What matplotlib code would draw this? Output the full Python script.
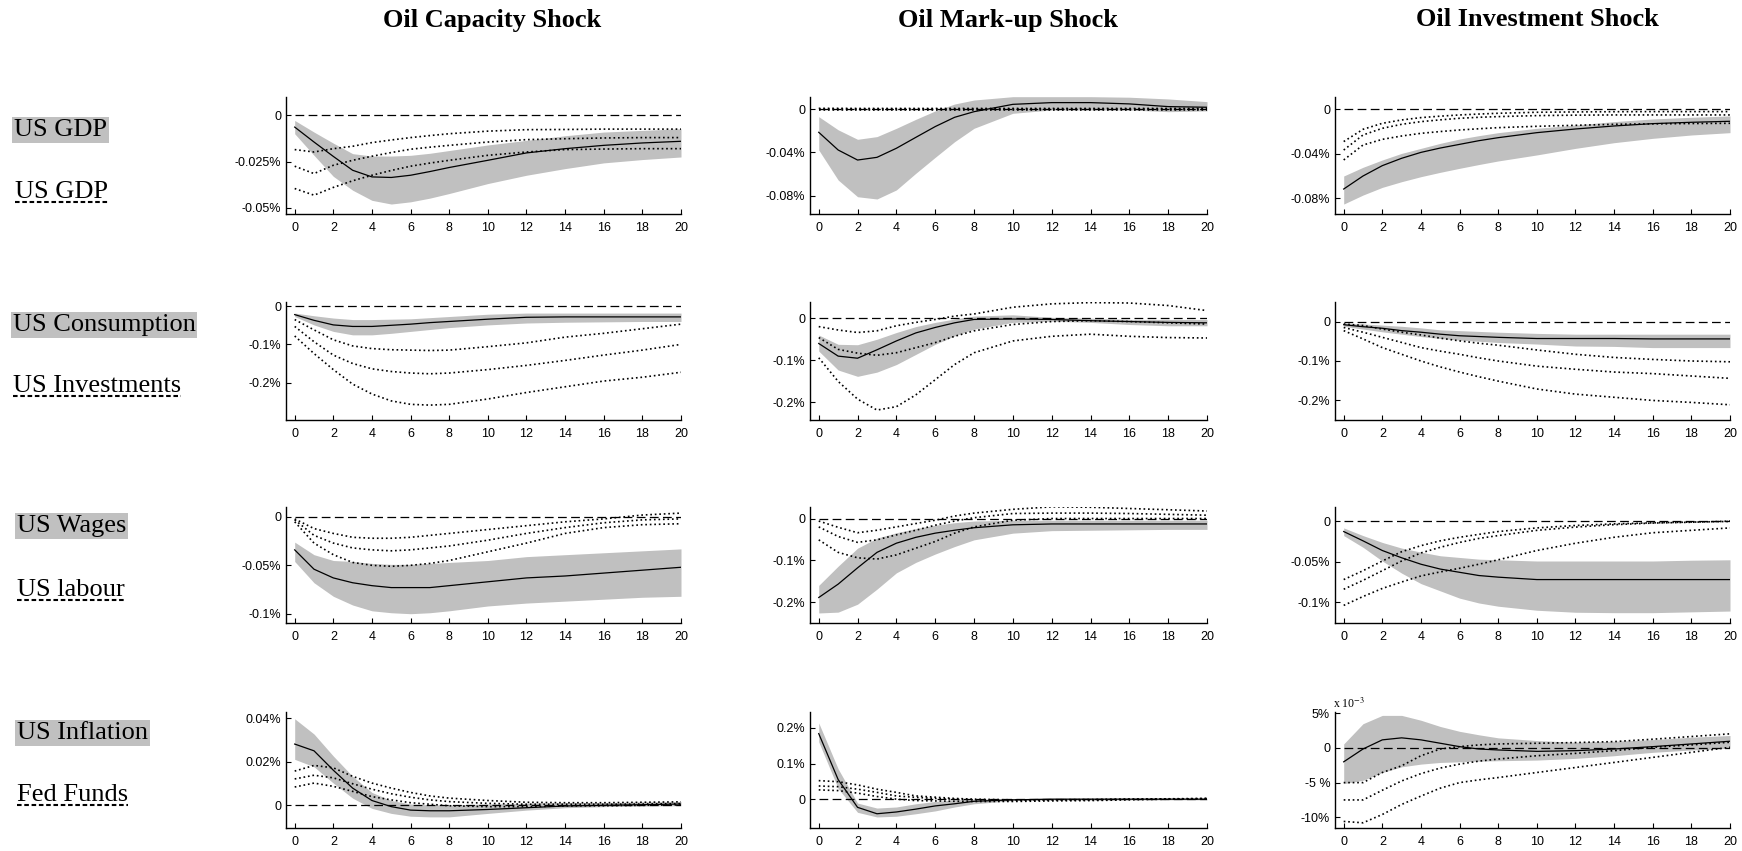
import matplotlib
matplotlib.use("Agg")
import matplotlib.pyplot as plt
from matplotlib.lines import Line2D

plt.rcParams['font.family'] = ['Liberation Sans', 'DejaVu Sans']
plt.rcParams['mathtext.fontset'] = 'stix'

# ---------------- data ----------------
horizons = [0, 1, 2, 3, 4, 5, 6, 7, 8, 10, 12, 14, 16, 18, 20]

shock_titles = ["Oil Capacity Shock", "Oil Mark-up Shock", "Oil Investment Shock"]
band_vars = ["US GDP", "US Consumption", "US Wages", "US Inflation"]
dotted_vars = ["US GDP", "US Investments", "US labour", "Fed Funds"]

# Row 1: US GDP (band) / US GDP (dotted)
cap_gdp_med = [-0.0063, -0.0144, -0.0222, -0.0297, -0.0333, -0.0336, -0.0324, -0.0304, -0.0282, -0.0243, -0.0203, -0.018, -0.0162, -0.0149, -0.014]
cap_gdp_hi = [-0.0027, -0.009, -0.015, -0.0207, -0.022, -0.022, -0.0216, -0.0205, -0.019, -0.016, -0.0135, -0.011, -0.009, -0.0081, -0.0072]
cap_gdp_lo = [-0.0099, -0.0216, -0.033, -0.0405, -0.046, -0.048, -0.0468, -0.0448, -0.0423, -0.0369, -0.0324, -0.0288, -0.0257, -0.0239, -0.0225]
cap_gdp_d1 = [-0.0185, -0.0198, -0.018, -0.0167, -0.0147, -0.0133, -0.012, -0.0109, -0.0099, -0.0085, -0.0077, -0.0076, -0.0074, -0.0074, -0.0074]
cap_gdp_d2 = [-0.0275, -0.0315, -0.027, -0.0243, -0.0221, -0.0201, -0.0183, -0.0172, -0.0162, -0.0144, -0.0131, -0.0126, -0.0122, -0.012, -0.012]
cap_gdp_d3 = [-0.0396, -0.0432, -0.039, -0.0354, -0.0324, -0.0298, -0.0275, -0.0258, -0.0243, -0.0216, -0.0198, -0.0185, -0.0182, -0.018, -0.018]

mk_gdp_med = [-0.0213, -0.0377, -0.047, -0.0445, -0.0361, -0.026, -0.016, -0.0074, -0.0022, 0.0046, 0.0062, 0.0062, 0.005, 0.0025, 0.0019]
mk_gdp_hi = [-0.0068, -0.019, -0.0278, -0.0253, -0.0176, -0.0093, -0.0015, 0.0049, 0.0086, 0.0117, 0.0117, 0.0117, 0.0112, 0.0096, 0.0071]
mk_gdp_lo = [-0.0377, -0.0655, -0.081, -0.0831, -0.0747, -0.0593, -0.0445, -0.03, -0.0176, -0.0037, -0.0006, -0.0006, -0.0006, -0.0022, -0.0015]
mk_gdp_d1 = [0.0009, 0.0009, 0.0008, 0.0008, 0.0008, 0.0008, 0.0008, 0.0008, 0.0008, 0.0008, 0.0008, 0.0008, 0.0008, 0.0008, 0.0008]
mk_gdp_d2 = [0.0003, 0.0003, 0.0003, 0.0003, 0.0003, 0.0003, 0.0003, 0.0003, 0.0003, 0.0003, 0.0003, 0.0003, 0.0003, 0.0003, 0.0003]
mk_gdp_d3 = [-0.0003, -0.0003, -0.0003, -0.0003, -0.0003, -0.0003, -0.0003, -0.0003, -0.0003, -0.0003, -0.0003, -0.0003, -0.0003, -0.0003, -0.0003]

inv_gdp_med = [-0.0716, -0.0599, -0.0506, -0.044, -0.0387, -0.0348, -0.0315, -0.0282, -0.0255, -0.021, -0.0177, -0.015, -0.0129, -0.0117, -0.0108]
inv_gdp_hi = [-0.0599, -0.0521, -0.0455, -0.0396, -0.0351, -0.0306, -0.0267, -0.0237, -0.021, -0.0171, -0.0141, -0.0111, -0.0087, -0.0072, -0.006]
inv_gdp_lo = [-0.0851, -0.077, -0.0701, -0.065, -0.0605, -0.0566, -0.053, -0.0496, -0.0464, -0.041, -0.0351, -0.03, -0.0261, -0.0231, -0.021]
inv_gdp_d1 = [-0.029, -0.018, -0.0126, -0.0096, -0.0075, -0.0062, -0.0051, -0.0043, -0.0036, -0.0027, -0.0024, -0.0022, -0.0021, -0.0021, -0.0021]
inv_gdp_d2 = [-0.0366, -0.0231, -0.0171, -0.0135, -0.0111, -0.0095, -0.0081, -0.0072, -0.0066, -0.0057, -0.0053, -0.0051, -0.0051, -0.0051, -0.0051]
inv_gdp_d3 = [-0.0455, -0.0321, -0.027, -0.024, -0.0216, -0.02, -0.0186, -0.0175, -0.0165, -0.0153, -0.0144, -0.0135, -0.0131, -0.0128, -0.0126]

# Row 2: US Consumption (band) / US Investments (dotted)
cap_con_med = [-0.022, -0.037, -0.049, -0.053, -0.053, -0.05, -0.047, -0.043, -0.04, -0.034, -0.029, -0.028, -0.028, -0.028, -0.028]
cap_con_hi = [-0.018, -0.025, -0.031, -0.035, -0.035, -0.034, -0.033, -0.03, -0.027, -0.021, -0.018, -0.018, -0.018, -0.018, -0.018]
cap_con_lo = [-0.027, -0.049, -0.066, -0.075, -0.075, -0.071, -0.066, -0.061, -0.056, -0.049, -0.044, -0.042, -0.041, -0.04, -0.04]
cap_con_d1 = [-0.035, -0.062, -0.088, -0.104, -0.111, -0.114, -0.115, -0.116, -0.115, -0.106, -0.096, -0.081, -0.071, -0.059, -0.047]
cap_con_d2 = [-0.053, -0.093, -0.128, -0.15, -0.164, -0.171, -0.175, -0.177, -0.175, -0.166, -0.155, -0.142, -0.128, -0.115, -0.1]
cap_con_d3 = [-0.078, -0.124, -0.166, -0.204, -0.23, -0.248, -0.257, -0.259, -0.257, -0.243, -0.226, -0.211, -0.196, -0.186, -0.173]

mk_con_med = [-0.06, -0.09, -0.095, -0.075, -0.054, -0.035, -0.022, -0.011, -0.003, -0.002, -0.003, -0.006, -0.008, -0.01, -0.011]
mk_con_hi = [-0.04, -0.062, -0.063, -0.05, -0.034, -0.02, -0.01, -0.002, 0.005, 0.008, 0.002, 0.0, -0.003, -0.003, -0.003]
mk_con_lo = [-0.078, -0.123, -0.138, -0.128, -0.11, -0.086, -0.062, -0.042, -0.026, -0.01, -0.007, -0.01, -0.015, -0.018, -0.018]
mk_con_d1 = [-0.02, -0.028, -0.034, -0.03, -0.018, -0.01, -0.003, 0.005, 0.01, 0.026, 0.034, 0.037, 0.036, 0.03, 0.018]
mk_con_d2 = [-0.046, -0.074, -0.083, -0.088, -0.082, -0.07, -0.058, -0.043, -0.03, -0.015, -0.008, -0.006, -0.008, -0.011, -0.014]
mk_con_d3 = [-0.094, -0.15, -0.192, -0.218, -0.21, -0.182, -0.146, -0.11, -0.082, -0.054, -0.043, -0.038, -0.043, -0.046, -0.047]

inv_con_med = [-0.008, -0.013, -0.017, -0.023, -0.027, -0.032, -0.036, -0.038, -0.04, -0.043, -0.043, -0.043, -0.044, -0.044, -0.044]
inv_con_hi = [-0.004, -0.006, -0.009, -0.012, -0.016, -0.021, -0.023, -0.025, -0.027, -0.03, -0.032, -0.032, -0.032, -0.032, -0.032]
inv_con_lo = [-0.012, -0.019, -0.026, -0.032, -0.038, -0.043, -0.047, -0.05, -0.053, -0.057, -0.062, -0.063, -0.066, -0.066, -0.066]
inv_con_d1 = [-0.006, -0.01, -0.019, -0.027, -0.034, -0.042, -0.049, -0.055, -0.06, -0.072, -0.083, -0.091, -0.096, -0.1, -0.102]
inv_con_d2 = [-0.015, -0.027, -0.04, -0.053, -0.066, -0.075, -0.083, -0.092, -0.1, -0.113, -0.121, -0.128, -0.132, -0.138, -0.144]
inv_con_d3 = [-0.023, -0.044, -0.066, -0.083, -0.1, -0.115, -0.128, -0.14, -0.151, -0.171, -0.184, -0.192, -0.2, -0.205, -0.211]

# Row 3: US Wages (band) / US labour (dotted)
cap_wag_med = [-0.034, -0.054, -0.063, -0.068, -0.071, -0.073, -0.073, -0.073, -0.071, -0.067, -0.063, -0.061, -0.058, -0.055, -0.052]
cap_wag_hi = [-0.026, -0.039, -0.045, -0.046, -0.048, -0.049, -0.049, -0.048, -0.047, -0.045, -0.041, -0.039, -0.037, -0.035, -0.033]
cap_wag_lo = [-0.046, -0.068, -0.082, -0.091, -0.097, -0.099, -0.1, -0.099, -0.097, -0.092, -0.089, -0.087, -0.085, -0.083, -0.082]
cap_wag_d1 = [-0.002, -0.012, -0.017, -0.021, -0.022, -0.022, -0.021, -0.019, -0.017, -0.013, -0.009, -0.005, -0.002, 0.002, 0.004]
cap_wag_d2 = [-0.003, -0.019, -0.027, -0.032, -0.034, -0.035, -0.034, -0.032, -0.03, -0.024, -0.017, -0.011, -0.006, -0.003, -0.002]
cap_wag_d3 = [-0.005, -0.027, -0.039, -0.047, -0.05, -0.051, -0.05, -0.048, -0.045, -0.036, -0.027, -0.017, -0.011, -0.008, -0.007]

mk_wag_med = [-0.189, -0.157, -0.118, -0.081, -0.059, -0.045, -0.035, -0.028, -0.022, -0.015, -0.013, -0.013, -0.013, -0.013, -0.013]
mk_wag_hi = [-0.16, -0.114, -0.071, -0.047, -0.034, -0.024, -0.016, -0.01, -0.006, -0.004, -0.004, -0.004, -0.004, -0.004, -0.004]
mk_wag_lo = [-0.226, -0.224, -0.205, -0.169, -0.13, -0.105, -0.085, -0.067, -0.051, -0.035, -0.029, -0.028, -0.027, -0.026, -0.026]
mk_wag_d1 = [-0.006, -0.021, -0.034, -0.028, -0.02, -0.012, -0.004, 0.006, 0.013, 0.022, 0.028, 0.027, 0.024, 0.021, 0.018]
mk_wag_d2 = [-0.02, -0.043, -0.057, -0.051, -0.039, -0.028, -0.016, -0.006, 0.002, 0.012, 0.013, 0.013, 0.012, 0.01, 0.008]
mk_wag_d3 = [-0.051, -0.081, -0.094, -0.097, -0.087, -0.071, -0.055, -0.035, -0.02, -0.004, 0.0, 0.0, 0.0, 0.0, 0.0]

inv_wag_med = [-0.0125, -0.024, -0.036, -0.045, -0.053, -0.059, -0.063, -0.067, -0.069, -0.072, -0.072, -0.072, -0.072, -0.072, -0.072]
inv_wag_hi = [-0.008, -0.0175, -0.026, -0.033, -0.038, -0.0425, -0.0446, -0.0467, -0.0475, -0.049, -0.049, -0.049, -0.049, -0.048, -0.0475]
inv_wag_lo = [-0.0175, -0.032, -0.049, -0.064, -0.077, -0.086, -0.095, -0.101, -0.105, -0.11, -0.1125, -0.113, -0.113, -0.112, -0.111]
inv_wag_d1 = [-0.072, -0.061, -0.049, -0.0375, -0.03, -0.024, -0.0196, -0.016, -0.0125, -0.008, -0.005, -0.003, -0.0017, -0.0008, 0.0]
inv_wag_d2 = [-0.084, -0.073, -0.061, -0.049, -0.039, -0.032, -0.026, -0.021, -0.0175, -0.011, -0.007, -0.004, -0.002, -0.001, 0.0004]
inv_wag_d3 = [-0.104, -0.093, -0.083, -0.075, -0.0675, -0.0625, -0.058, -0.053, -0.0475, -0.036, -0.027, -0.0196, -0.014, -0.011, -0.008]

# Row 4: US Inflation (band) / Fed Funds (dotted)
cap_inf_med = [0.0281, 0.025, 0.0161, 0.0079, 0.0022, -0.0006, -0.0022, -0.0025, -0.0025, -0.0019, -0.0011, -0.0003, 0.0, 0.0003, 0.0006]
cap_inf_hi = [0.0397, 0.0327, 0.0226, 0.0133, 0.0059, 0.0022, 0.0006, 0.0002, 0.0002, 0.0006, 0.0009, 0.0012, 0.0012, 0.0016, 0.0017]
cap_inf_lo = [0.0211, 0.0177, 0.0102, 0.0033, -0.0014, -0.0037, -0.005, -0.0053, -0.0053, -0.0037, -0.0022, -0.0011, -0.0006, -0.0003, -0.0002]
cap_inf_d1 = [0.0157, 0.0183, 0.0172, 0.0133, 0.0102, 0.0079, 0.0059, 0.0043, 0.0033, 0.0022, 0.0014, 0.0012, 0.0012, 0.0014, 0.0016]
cap_inf_d2 = [0.0121, 0.0138, 0.0126, 0.0099, 0.0074, 0.0053, 0.0037, 0.0025, 0.0017, 0.0009, 0.0005, 0.0005, 0.0005, 0.0006, 0.0008]
cap_inf_d3 = [0.0084, 0.0102, 0.0087, 0.0064, 0.004, 0.0025, 0.0012, 0.0005, -0.0002, -0.0006, -0.0006, -0.0003, -0.0002, 0.0, 0.0002]

mk_inf_med = [0.184, 0.055, -0.023, -0.041, -0.036, -0.028, -0.019, -0.013, -0.006, -0.002, 0.0, 0.0, 0.0, 0.0, 0.0]
mk_inf_hi = [0.214, 0.085, -0.011, -0.025, -0.022, -0.013, -0.0065, -0.002, 0.0, 0.002, 0.002, 0.001, 0.001, 0.001, 0.002]
mk_inf_lo = [0.161, 0.03, -0.037, -0.05, -0.048, -0.041, -0.033, -0.022, -0.013, -0.004, -0.002, -0.002, -0.002, -0.002, -0.002]
mk_inf_d1 = [0.052, 0.049, 0.04, 0.028, 0.019, 0.009, 0.0056, 0.002, 0.0, -0.002, -0.002, -0.001, 0.0, 0.001, 0.002]
mk_inf_d2 = [0.037, 0.035, 0.028, 0.019, 0.009, 0.005, 0.002, 0.0, -0.002, -0.004, -0.002, -0.002, 0.0, 0.0, 0.001]
mk_inf_d3 = [0.026, 0.024, 0.017, 0.0074, 0.0, -0.004, -0.005, -0.006, -0.0065, -0.0065, -0.005, -0.004, -0.002, 0.0, 0.002]

# (values in units of 1e-3 %)
inv_inf_med = [-2.0, -0.15, 1.17, 1.46, 1.17, 0.68, 0.19, -0.15, -0.29, -0.49, -0.39, -0.15, 0.19, 0.58, 0.97]
inv_inf_hi = [0.58, 3.5, 4.7, 4.7, 4.0, 3.1, 2.4, 1.9, 1.46, 1.07, 0.83, 0.97, 1.2, 1.55, 1.8]
inv_inf_lo = [-5.15, -4.66, -3.54, -2.72, -2.33, -2.09, -2.0, -1.9, -1.84, -1.75, -1.5, -1.12, -0.63, -0.29, -0.05]
inv_inf_d1 = [-5.0, -5.0, -3.54, -2.57, -1.12, -0.15, 0.19, 0.44, 0.58, 0.68, 0.78, 0.92, 1.26, 1.65, 2.04]
inv_inf_d2 = [-7.5, -7.5, -6.1, -4.76, -3.7, -2.9, -2.33, -1.9, -1.6, -1.12, -0.78, -0.39, 0.1, 0.44, 0.83]
inv_inf_d3 = [-10.6, -10.8, -9.6, -8.15, -6.94, -5.8, -5.0, -4.6, -4.27, -3.54, -2.82, -2.09, -1.36, -0.63, 0.1]

x_ticks = [0, 2, 4, 6, 8, 10, 12, 14, 16, 18, 20]

yt_gdp_cap = [0, -0.025, -0.05]; yl_gdp_cap = ["0", "-0.025%", "-0.05%"]
yt_gdp = [0, -0.04, -0.08]; yl_gdp = ["0", "-0.04%", "-0.08%"]
yt_con = [0, -0.1, -0.2]; yl_con = ["0", "-0.1%", "-0.2%"]
yt_wag = [0, -0.05, -0.1]; yl_wag = ["0", "-0.05%", "-0.1%"]
yt_inf_cap = [0, 0.02, 0.04]; yl_inf_cap = ["0", "0.02%", "0.04%"]
yt_inf_mk = [0, 0.1, 0.2]; yl_inf_mk = ["0", "0.1%", "0.2%"]
yt_inf_inv = [5, 0, -5, -10]; yl_inf_inv = ["5%", "0", "-5 %", "-10%"]

panels = [
    [(cap_gdp_lo, cap_gdp_hi, cap_gdp_med, cap_gdp_d1, cap_gdp_d2, cap_gdp_d3, yt_gdp_cap, yl_gdp_cap, (-0.0534, 0.010)),
     (mk_gdp_lo, mk_gdp_hi, mk_gdp_med, mk_gdp_d1, mk_gdp_d2, mk_gdp_d3, yt_gdp, yl_gdp, (-0.097, 0.0114)),
     (inv_gdp_lo, inv_gdp_hi, inv_gdp_med, inv_gdp_d1, inv_gdp_d2, inv_gdp_d3, yt_gdp, yl_gdp, (-0.094, 0.011))],
    [(cap_con_lo, cap_con_hi, cap_con_med, cap_con_d1, cap_con_d2, cap_con_d3, yt_con, yl_con, (-0.298, 0.011)),
     (mk_con_lo, mk_con_hi, mk_con_med, mk_con_d1, mk_con_d2, mk_con_d3, yt_con, yl_con, (-0.2416, 0.0384)),
     (inv_con_lo, inv_con_hi, inv_con_med, inv_con_d1, inv_con_d2, inv_con_d3, yt_con, yl_con, (-0.2496, 0.0496))],
    [(cap_wag_lo, cap_wag_hi, cap_wag_med, cap_wag_d1, cap_wag_d2, cap_wag_d3, yt_wag, yl_wag, (-0.1096, 0.0103)),
     (mk_wag_lo, mk_wag_hi, mk_wag_med, mk_wag_d1, mk_wag_d2, mk_wag_d3, yt_con, yl_con, (-0.250, 0.0276)),
     (inv_wag_lo, inv_wag_hi, inv_wag_med, inv_wag_d1, inv_wag_d2, inv_wag_d3, yt_wag, yl_wag, (-0.1258, 0.0179))],
    [(cap_inf_lo, cap_inf_hi, cap_inf_med, cap_inf_d1, cap_inf_d2, cap_inf_d3, yt_inf_cap, yl_inf_cap, (-0.0104, 0.0428)),
     (mk_inf_lo, mk_inf_hi, mk_inf_med, mk_inf_d1, mk_inf_d2, mk_inf_d3, yt_inf_mk, yl_inf_mk, (-0.081, 0.2447)),
     (inv_inf_lo, inv_inf_hi, inv_inf_med, inv_inf_d1, inv_inf_d2, inv_inf_d3, yt_inf_inv, yl_inf_inv, (-11.55, 5.19))],
]

# ---------------- layout ----------------
W, H = 1742, 851
fig = plt.figure(figsize=(W / 100, H / 100), dpi=100)
fig.patch.set_facecolor('white')

row_px = [(97, 214), (302, 420), (507, 623), (712, 828)]
col_px = [(286, 681), (810, 1207), (1335, 1730)]
BAND = '#c0c0c0'

for r, (top, bot) in enumerate(row_px):
    for c, (lft, rgt) in enumerate(col_px):
        lo, hi, med, d1, d2, d3, yt, yl, ylim = panels[r][c]
        ax = fig.add_axes([lft / W, 1 - bot / H, (rgt - lft) / W, (bot - top) / H])
        ax.fill_between(horizons, lo, hi, color=BAND, linewidth=0, zorder=1)
        for d in (d1, d2, d3):
            ax.plot(horizons, d, color='black', lw=1.2, linestyle=(0, (1, 1.7)), zorder=2)
        ax.plot([0, 20], [0, 0], color='black', lw=0.9, dashes=(7, 3.5), zorder=3)
        ax.plot(horizons, med, color='black', lw=0.9, zorder=4)
        ax.set_xlim(-0.45, 20)
        ax.set_ylim(*ylim)
        ax.set_xticks(x_ticks)
        ax.set_xticklabels([str(v) for v in x_ticks])
        ax.set_yticks(yt)
        ax.set_yticklabels(yl)
        for s in ('top', 'right'):
            ax.spines[s].set_visible(False)
        for s in ('left', 'bottom'):
            ax.spines[s].set_linewidth(1.0)
        ax.tick_params(axis='both', direction='in', length=3.5, width=0.8, labelsize=9)
        ax.tick_params(axis='x', pad=5.5)
        ax.tick_params(axis='y', pad=3.5)
        ax.set_facecolor('white')
        if r == 3 and c == 2:
            fig.text(1333 / W, 1 - 708 / H, r'x 10$^{-3}$', family='Liberation Serif',
                     fontsize=8.5, va='baseline', ha='left')

# Column titles
title_x = [492, 1008, 1537]
for t, xx in zip(shock_titles, title_x):
    fig.text(xx / W, 1 - 20 / H, t, ha='center', va='center', fontsize=19,
             fontweight='bold', family='Liberation Serif')

# Row labels
band_pos = [(14, 136), (13, 331), (17, 532), (17, 739)]
dot_pos = [(15, 198), (13, 392), (17, 596), (17, 801)]
dot_texts = []
for name, (xx, yy) in zip(band_vars, band_pos):
    fig.text(xx / W, 1 - yy / H, name, ha='left', va='baseline', fontsize=19,
             family='Liberation Serif',
             bbox=dict(facecolor=BAND, edgecolor='none', boxstyle='square,pad=0.06'))
for name, (xx, yy) in zip(dotted_vars, dot_pos):
    t = fig.text(xx / W, 1 - yy / H, name, ha='left', va='baseline', fontsize=19,
                 family='Liberation Serif')
    dot_texts.append((t, yy))

fig.canvas.draw()
renderer = fig.canvas.get_renderer()
for t, yy in dot_texts:
    bb = t.get_window_extent(renderer=renderer)
    yline = 1 - (yy + 4) / H
    fig.add_artist(Line2D([bb.x0 / W, bb.x1 / W], [yline, yline], transform=fig.transFigure,
                          color='black', lw=1.5, dashes=(2.2, 1.3)))

fig.savefig('out.png', dpi=100, facecolor='white')
